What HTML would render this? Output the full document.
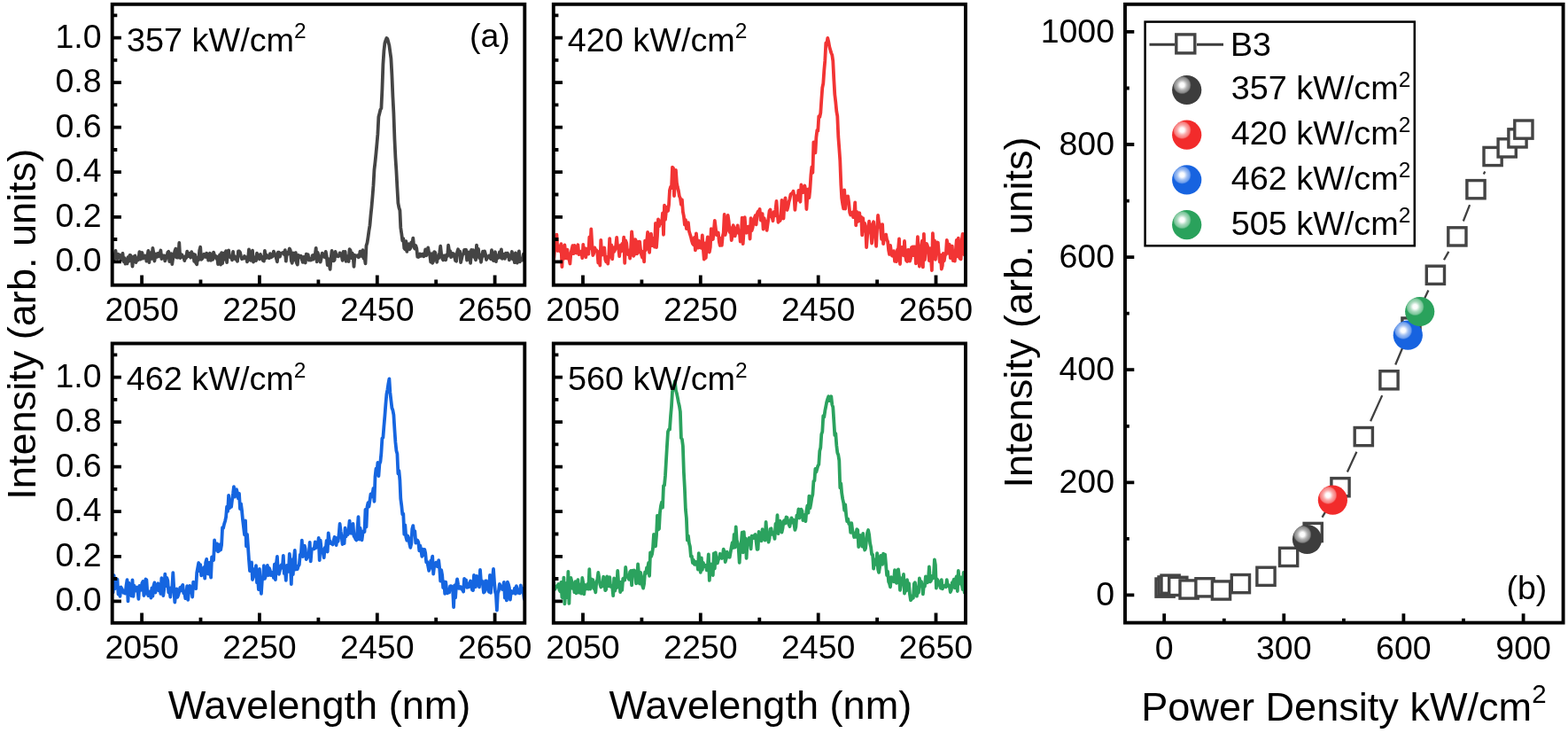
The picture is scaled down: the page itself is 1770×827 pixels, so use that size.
<!DOCTYPE html>
<html><head><meta charset="utf-8"><title>Figure</title><style>html,body{margin:0;padding:0;background:#fff;overflow:hidden}svg{display:block}</style></head><body>
<svg width="1770" height="827" viewBox="0 0 1770 827" font-family="'Liberation Sans', Arial, sans-serif">
<rect width="1770" height="827" fill="#fff"/>
<defs>
<clipPath id="c0"><rect x="126.7" y="4.8" width="465.6" height="316.9"/></clipPath>
<clipPath id="c1"><rect x="624.8" y="4.8" width="465.2" height="316.9"/></clipPath>
<clipPath id="c2"><rect x="126.7" y="387.5" width="465.6" height="315.3"/></clipPath>
<clipPath id="c3"><rect x="624.8" y="387.5" width="465.2" height="315.3"/></clipPath>
<radialGradient id="hl" cx="0.34" cy="0.335" r="0.31"><stop offset="0" stop-color="#fff" stop-opacity="1"/><stop offset="0.25" stop-color="#fff" stop-opacity="0.97"/><stop offset="0.55" stop-color="#fff" stop-opacity="0.6"/><stop offset="0.85" stop-color="#fff" stop-opacity="0.38"/><stop offset="1" stop-color="#fff" stop-opacity="0"/></radialGradient>
</defs>
<g clip-path="url(#c0)"><polyline points="123.6,289.0 124.6,287.7 125.6,290.3 126.6,293.1 127.6,291.1 128.6,293.5 129.5,288.7 130.5,282.9 131.5,291.3 132.5,291.8 133.5,286.8 134.5,287.4 135.5,288.5 136.5,293.2 137.5,289.1 138.5,285.9 139.5,295.1 140.5,291.1 141.5,297.7 142.5,294.9 143.5,297.4 144.5,290.1 145.5,294.8 146.5,287.8 147.5,288.3 148.5,289.9 149.5,300.5 150.5,291.5 151.5,289.2 152.5,288.5 153.5,296.0 154.5,291.2 155.5,293.5 156.4,292.7 157.4,284.2 158.4,292.7 159.4,289.2 160.4,285.0 161.4,291.7 162.4,289.5 163.4,288.5 164.4,288.7 165.4,294.6 166.4,288.7 167.4,282.8 168.4,296.1 169.4,285.1 170.4,288.5 171.4,291.9 172.4,279.9 173.4,285.5 174.4,294.5 175.4,288.7 176.4,286.4 177.4,289.9 178.4,285.9 179.4,289.3 180.4,286.0 181.4,282.5 182.4,292.1 183.3,288.1 184.3,291.1 185.3,288.4 186.3,294.4 187.3,291.6 188.3,289.9 189.3,284.9 190.3,283.8 191.3,295.0 192.3,292.6 193.3,286.1 194.3,298.1 195.3,291.1 196.3,289.5 197.3,283.3 198.3,280.6 199.3,290.5 200.3,290.7 201.3,290.2 202.3,274.0 203.3,291.0 204.3,290.4 205.3,287.4 206.3,289.6 207.3,289.9 208.3,294.1 209.3,289.1 210.2,291.0 211.2,283.7 212.2,286.0 213.2,289.1 214.2,286.0 215.2,290.6 216.2,284.2 217.2,289.0 218.2,286.4 219.2,294.9 220.2,287.4 221.2,296.7 222.2,298.3 223.2,290.4 224.2,293.1 225.2,282.6 226.2,278.8 227.2,292.8 228.2,291.9 229.2,288.1 230.2,286.8 231.2,289.8 232.2,290.0 233.2,285.8 234.2,286.6 235.2,293.7 236.2,289.4 237.1,285.8 238.1,293.8 239.1,287.8 240.1,292.9 241.1,284.6 242.1,288.1 243.1,288.6 244.1,291.7 245.1,289.6 246.1,298.1 247.1,294.2 248.1,287.4 249.1,298.7 250.1,285.2 251.1,297.0 252.1,285.6 253.1,292.9 254.1,285.5 255.1,283.3 256.1,296.0 257.1,283.3 258.1,282.5 259.1,289.3 260.1,290.3 261.1,289.7 262.1,293.4 263.1,284.0 264.0,291.5 265.0,289.2 266.0,292.6 267.0,291.9 268.0,294.8 269.0,283.3 270.0,283.4 271.0,284.6 272.0,289.0 273.0,292.2 274.0,290.5 275.0,291.6 276.0,289.0 277.0,290.7 278.0,290.4 279.0,295.3 280.0,292.7 281.0,281.5 282.0,292.1 283.0,293.8 284.0,287.5 285.0,282.6 286.0,295.6 287.0,290.0 288.0,291.9 289.0,294.0 290.0,285.7 290.9,289.1 291.9,288.7 292.9,292.4 293.9,286.9 294.9,291.5 295.9,289.7 296.9,294.1 297.9,294.5 298.9,282.9 299.9,291.3 300.9,287.7 301.9,289.2 302.9,291.0 303.9,291.3 304.9,286.1 305.9,290.4 306.9,289.7 307.9,288.9 308.9,283.7 309.9,285.9 310.9,287.3 311.9,291.6 312.9,295.3 313.9,284.7 314.9,284.6 315.9,289.7 316.9,286.5 317.8,285.5 318.8,285.2 319.8,284.8 320.8,287.0 321.8,282.1 322.8,294.7 323.8,285.1 324.8,286.8 325.8,285.0 326.8,280.5 327.8,282.3 328.8,294.2 329.8,296.7 330.8,285.3 331.8,293.6 332.8,289.1 333.8,285.2 334.8,296.5 335.8,298.6 336.8,287.8 337.8,288.8 338.8,290.1 339.8,288.8 340.8,292.9 341.8,295.9 342.8,289.8 343.8,293.4 344.7,296.5 345.7,286.7 346.7,289.3 347.7,287.2 348.7,293.5 349.7,292.0 350.7,293.6 351.7,293.0 352.7,288.1 353.7,292.6 354.7,287.4 355.7,287.5 356.7,279.8 357.7,295.3 358.7,285.0 359.7,289.4 360.7,289.1 361.7,295.6 362.7,291.1 363.7,285.6 364.7,289.4 365.7,288.6 366.7,290.3 367.7,283.8 368.7,289.1 369.7,299.0 370.7,292.2 371.6,298.0 372.6,303.8 373.6,291.4 374.6,282.9 375.6,288.8 376.6,294.3 377.6,293.3 378.6,283.9 379.6,288.3 380.6,288.8 381.6,289.3 382.6,288.8 383.6,285.4 384.6,286.5 385.6,288.0 386.6,293.8 387.6,283.9 388.6,292.1 389.6,284.0 390.6,294.8 391.6,289.6 392.6,289.0 393.6,295.0 394.6,281.2 395.6,282.4 396.6,291.1 397.6,285.5 398.5,287.3 399.5,300.9 400.5,287.9 401.5,289.3 402.5,288.6 403.5,288.2 404.5,290.2 405.5,289.8 406.5,283.6 407.5,287.5 408.5,289.0 409.5,282.1 410.5,291.5 411.5,290.8 412.5,297.3 413.5,277.1 414.5,274.0 415.5,267.6 416.5,260.2 417.5,254.2 418.5,243.0 419.5,233.5 420.5,221.8 421.5,209.2 422.5,191.2 423.5,182.8 424.5,172.8 425.4,162.8 426.4,151.4 427.4,131.7 428.4,127.9 429.4,123.8 430.4,122.1 431.4,101.2 432.4,72.6 433.4,57.3 434.4,48.6 435.4,45.4 436.4,43.0 437.4,43.9 438.4,47.5 439.4,51.4 440.4,58.7 441.4,66.1 442.4,84.4 443.4,108.6 444.4,128.0 445.4,156.2 446.4,177.5 447.4,192.7 448.4,211.5 449.4,229.2 450.4,234.3 451.4,237.4 452.3,256.9 453.3,263.8 454.3,271.5 455.3,269.2 456.3,280.0 457.3,281.2 458.3,272.1 459.3,283.9 460.3,276.7 461.3,275.3 462.3,281.3 463.3,280.1 464.3,273.3 465.3,275.0 466.3,268.6 467.3,278.6 468.3,280.6 469.3,277.0 470.3,280.2 471.3,289.7 472.3,290.1 473.3,289.3 474.3,286.5 475.3,288.9 476.3,287.0 477.3,286.6 478.3,289.3 479.2,288.1 480.2,281.5 481.2,288.3 482.2,285.7 483.2,279.5 484.2,285.3 485.2,287.7 486.2,295.6 487.2,286.2 488.2,296.8 489.2,294.4 490.2,284.1 491.2,284.8 492.2,288.7 493.2,295.8 494.2,289.7 495.2,291.1 496.2,285.1 497.2,277.7 498.2,287.0 499.2,291.6 500.2,293.4 501.2,288.3 502.2,288.8 503.2,293.3 504.2,287.5 505.2,288.9 506.1,276.7 507.1,283.2 508.1,283.1 509.1,290.2 510.1,285.7 511.1,288.7 512.1,286.2 513.1,289.6 514.1,294.0 515.1,294.7 516.1,284.5 517.1,281.3 518.1,287.1 519.1,283.6 520.1,296.0 521.1,291.7 522.1,287.3 523.1,286.3 524.1,281.9 525.1,283.4 526.1,281.8 527.1,293.7 528.1,292.4 529.1,284.5 530.1,286.0 531.1,296.8 532.1,282.0 533.0,285.4 534.0,282.1 535.0,289.9 536.0,289.5 537.0,293.3 538.0,276.6 539.0,289.0 540.0,281.0 541.0,291.1 542.0,287.5 543.0,295.8 544.0,289.9 545.0,283.7 546.0,288.6 547.0,283.3 548.0,286.7 549.0,293.0 550.0,290.5 551.0,290.3 552.0,288.5 553.0,290.7 554.0,292.0 555.0,282.2 556.0,292.9 557.0,294.1 558.0,288.5 559.0,284.3 559.9,295.2 560.9,288.3 561.9,291.2 562.9,288.4 563.9,284.4 564.9,290.6 565.9,281.5 566.9,291.8 567.9,286.5 568.9,289.3 569.9,291.7 570.9,285.6 571.9,289.0 572.9,285.6 573.9,288.5 574.9,293.3 575.9,288.8 576.9,288.1 577.9,284.0 578.9,292.5 579.9,288.5 580.9,296.2 581.9,285.4 582.9,293.3 583.9,296.6 584.9,288.6 585.9,283.3 586.8,295.3 587.8,293.3 588.8,291.8 589.8,293.5 590.8,286.7 591.8,292.1 592.8,284.6 593.8,285.8 594.8,291.8" fill="none" stroke="#444444" stroke-width="3.8" stroke-linejoin="round" stroke-linecap="round"/></g>
<path d="M160.1,321.7V310.5M226.5,321.7V315.6M292.9,321.7V310.5M359.4,321.7V315.6M425.8,321.7V310.5M492.2,321.7V315.6M558.6,321.7V310.5M126.7,295.3H136.9M126.7,270.0H132.3M126.7,244.8H136.9M126.7,219.5H132.3M126.7,194.2H136.9M126.7,169.0H132.3M126.7,143.7H136.9M126.7,118.4H132.3M126.7,93.1H136.9M126.7,67.9H132.3M126.7,42.6H136.9M126.7,17.3H132.3" stroke="#000" stroke-width="3.8" fill="none"/>
<rect x="126.7" y="4.8" width="465.6" height="316.9" fill="none" stroke="#000" stroke-width="3.9"/>
<text x="160.1" y="361.9" font-size="37.5" text-anchor="middle">2050</text>
<text x="292.9" y="361.9" font-size="37.5" text-anchor="middle">2250</text>
<text x="425.8" y="361.9" font-size="37.5" text-anchor="middle">2450</text>
<text x="558.6" y="361.9" font-size="37.5" text-anchor="middle">2650</text>
<text x="114.6" y="306.3" font-size="37.5" text-anchor="end">0.0</text>
<text x="114.6" y="255.8" font-size="37.5" text-anchor="end">0.2</text>
<text x="114.6" y="205.2" font-size="37.5" text-anchor="end">0.4</text>
<text x="114.6" y="154.7" font-size="37.5" text-anchor="end">0.6</text>
<text x="114.6" y="104.1" font-size="37.5" text-anchor="end">0.8</text>
<text x="114.6" y="53.6" font-size="37.5" text-anchor="end">1.0</text>
<text x="143.0" y="57.9" font-size="37.8">357 kW/cm<tspan font-size="24.5" dy="-14.5">2</tspan></text>
<g clip-path="url(#c1)"><polyline points="621.5,277.0 622.5,267.0 623.5,268.2 624.5,296.8 625.5,289.2 626.5,276.6 627.4,275.8 628.4,264.7 629.4,283.0 630.4,279.0 631.4,277.7 632.4,283.6 633.4,275.2 634.4,301.1 635.4,278.6 636.4,291.9 637.4,276.5 638.4,286.0 639.4,291.4 640.4,281.7 641.4,291.9 642.4,292.2 643.4,297.5 644.4,285.6 645.4,281.4 646.4,277.2 647.4,286.2 648.4,276.8 649.4,284.8 650.4,285.5 651.4,280.2 652.4,276.3 653.4,287.2 654.3,286.3 655.3,285.6 656.3,283.5 657.3,291.2 658.3,275.9 659.3,287.0 660.3,280.2 661.3,290.2 662.3,280.8 663.3,280.4 664.3,286.7 665.3,267.5 666.3,280.3 667.3,258.5 668.3,275.5 669.3,288.1 670.3,285.8 671.3,279.3 672.3,282.1 673.3,282.1 674.3,284.6 675.3,296.5 676.3,284.0 677.3,299.5 678.3,270.8 679.3,287.6 680.3,287.4 681.2,283.4 682.2,279.5 683.2,292.7 684.2,295.2 685.2,289.9 686.2,297.5 687.2,289.1 688.2,269.1 689.2,289.8 690.2,276.4 691.2,292.3 692.2,279.2 693.2,284.0 694.2,282.0 695.2,277.1 696.2,267.8 697.2,280.0 698.2,280.6 699.2,289.2 700.2,277.0 701.2,283.5 702.2,275.0 703.2,281.8 704.2,267.7 705.2,296.8 706.2,271.5 707.2,274.1 708.1,283.7 709.1,287.1 710.1,282.8 711.1,291.5 712.1,279.6 713.1,261.3 714.1,271.4 715.1,288.9 716.1,287.0 717.1,270.1 718.1,272.1 719.1,286.3 720.1,285.2 721.1,272.7 722.1,272.7 723.1,282.1 724.1,287.6 725.1,290.6 726.1,283.6 727.1,295.3 728.1,271.6 729.1,282.1 730.1,273.0 731.1,261.8 732.1,267.0 733.1,284.8 734.1,267.7 735.0,263.8 736.0,277.0 737.0,277.0 738.0,268.7 739.0,278.7 740.0,251.8 741.0,279.2 742.0,266.0 743.0,247.3 744.0,255.2 745.0,251.1 746.0,249.3 747.0,252.1 748.0,240.5 749.0,264.8 750.0,231.7 751.0,247.7 752.0,238.0 753.0,233.8 754.0,238.0 755.0,231.3 756.0,214.4 757.0,210.9 758.0,212.0 759.0,188.7 760.0,189.6 761.0,221.0 761.9,208.2 762.9,191.9 763.9,206.2 764.9,211.3 765.9,215.3 766.9,221.5 767.9,223.5 768.9,230.8 769.9,225.3 770.9,239.0 771.9,243.9 772.9,253.5 773.9,248.0 774.9,258.1 775.9,256.0 776.9,251.1 777.9,261.0 778.9,264.3 779.9,267.4 780.9,271.7 781.9,274.8 782.9,276.2 783.9,267.8 784.9,282.3 785.9,263.3 786.9,273.5 787.9,279.7 788.8,271.7 789.8,279.2 790.8,272.8 791.8,279.9 792.8,265.5 793.8,280.8 794.8,292.7 795.8,274.5 796.8,291.0 797.8,275.8 798.8,267.4 799.8,269.9 800.8,284.5 801.8,279.0 802.8,258.1 803.8,268.5 804.8,270.0 805.8,260.7 806.8,248.8 807.8,256.9 808.8,265.0 809.8,264.0 810.8,262.6 811.8,272.9 812.8,277.0 813.8,269.0 814.8,276.8 815.7,266.8 816.7,262.6 817.7,242.0 818.7,265.0 819.7,259.3 820.7,259.6 821.7,243.0 822.7,250.1 823.7,262.2 824.7,257.2 825.7,271.2 826.7,265.6 827.7,254.1 828.7,258.0 829.7,266.3 830.7,261.2 831.7,258.1 832.7,254.4 833.7,263.0 834.7,260.3 835.7,272.6 836.7,267.3 837.7,245.6 838.7,275.1 839.7,260.2 840.7,245.2 841.7,259.7 842.6,262.7 843.6,256.4 844.6,255.6 845.6,255.8 846.6,269.5 847.6,246.1 848.6,260.2 849.6,257.0 850.6,250.1 851.6,246.1 852.6,243.3 853.6,253.4 854.6,241.5 855.6,238.7 856.6,238.2 857.6,236.0 858.6,248.2 859.6,248.7 860.6,241.2 861.6,258.6 862.6,246.1 863.6,251.4 864.6,249.6 865.6,259.9 866.6,252.7 867.6,245.4 868.6,237.8 869.5,236.5 870.5,244.4 871.5,244.7 872.5,249.2 873.5,239.1 874.5,243.7 875.5,236.5 876.5,226.9 877.5,240.1 878.5,250.9 879.5,245.1 880.5,249.1 881.5,246.3 882.5,225.9 883.5,233.6 884.5,246.5 885.5,228.8 886.5,223.3 887.5,235.2 888.5,236.9 889.5,233.5 890.5,227.9 891.5,224.4 892.5,219.4 893.5,218.4 894.5,217.9 895.5,215.8 896.4,220.5 897.4,236.9 898.4,225.2 899.4,221.0 900.4,225.7 901.4,214.8 902.4,224.0 903.4,227.7 904.4,208.5 905.4,214.1 906.4,217.1 907.4,211.0 908.4,209.5 909.4,214.6 910.4,236.0 911.4,221.6 912.4,213.3 913.4,223.0 914.4,213.2 915.4,197.5 916.4,188.3 917.4,194.8 918.4,160.4 919.4,161.5 920.4,172.3 921.4,154.7 922.4,146.8 923.3,147.7 924.3,131.2 925.3,132.0 926.3,127.3 927.3,112.6 928.3,99.0 929.3,94.1 930.3,79.5 931.3,68.2 932.3,48.5 933.3,49.1 934.3,42.9 935.3,47.2 936.3,52.8 937.3,56.2 938.3,59.6 939.3,62.1 940.3,69.0 941.3,89.3 942.3,106.6 943.3,115.1 944.3,125.6 945.3,131.2 946.3,154.0 947.3,167.2 948.3,181.4 949.3,207.9 950.2,223.6 951.2,230.3 952.2,235.3 953.2,214.5 954.2,235.6 955.2,221.3 956.2,228.4 957.2,221.5 958.2,229.1 959.2,239.8 960.2,242.5 961.2,240.3 962.2,239.6 963.2,245.1 964.2,241.2 965.2,228.4 966.2,254.3 967.2,239.0 968.2,250.0 969.2,243.4 970.2,240.3 971.2,249.3 972.2,244.8 973.2,265.3 974.2,246.1 975.2,260.6 976.2,252.0 977.1,256.5 978.1,279.1 979.1,265.8 980.1,259.2 981.1,249.7 982.1,260.2 983.1,260.9 984.1,274.5 985.1,252.7 986.1,250.3 987.1,264.7 988.1,267.2 989.1,277.8 990.1,257.7 991.1,243.0 992.1,250.9 993.1,253.2 994.1,258.4 995.1,269.8 996.1,253.1 997.1,275.2 998.1,269.2 999.1,267.4 1000.1,264.6 1001.1,270.3 1002.1,272.5 1003.1,282.4 1004.0,287.0 1005.0,276.9 1006.0,283.5 1007.0,288.7 1008.0,288.8 1009.0,283.2 1010.0,294.8 1011.0,291.8 1012.0,295.1 1013.0,281.8 1014.0,281.0 1015.0,269.5 1016.0,298.0 1017.0,279.5 1018.0,279.0 1019.0,287.6 1020.0,288.2 1021.0,272.0 1022.0,287.8 1023.0,294.0 1024.0,295.0 1025.0,281.8 1026.0,281.8 1027.0,294.7 1028.0,291.4 1029.0,279.2 1030.0,278.6 1030.9,288.2 1031.9,278.3 1032.9,278.8 1033.9,297.4 1034.9,286.0 1035.9,267.1 1036.9,288.2 1037.9,300.6 1038.9,286.1 1039.9,278.1 1040.9,271.7 1041.9,301.4 1042.9,263.8 1043.9,293.2 1044.9,277.0 1045.9,274.9 1046.9,277.0 1047.9,283.6 1048.9,294.0 1049.9,280.1 1050.9,290.7 1051.9,305.0 1052.9,263.2 1053.9,279.9 1054.9,271.3 1055.9,292.8 1056.9,274.2 1057.8,273.4 1058.8,273.7 1059.8,286.2 1060.8,295.5 1061.8,287.6 1062.8,303.6 1063.8,299.7 1064.8,285.8 1065.8,294.3 1066.8,287.6 1067.8,287.0 1068.8,270.8 1069.8,275.5 1070.8,285.9 1071.8,275.8 1072.8,291.2 1073.8,287.5 1074.8,277.6 1075.8,294.2 1076.8,286.5 1077.8,294.5 1078.8,283.0 1079.8,270.9 1080.8,289.4 1081.8,268.7 1082.8,290.1 1083.8,291.9 1084.7,292.4 1085.7,271.1 1086.7,263.8 1087.7,278.3 1088.7,287.5 1089.7,276.2 1090.7,284.1 1091.7,275.0 1092.7,278.8" fill="none" stroke="#f23434" stroke-width="3.8" stroke-linejoin="round" stroke-linecap="round"/></g>
<path d="M658.0,321.7V310.5M724.4,321.7V315.6M790.8,321.7V310.5M857.3,321.7V315.6M923.7,321.7V310.5M990.1,321.7V315.6M1056.5,321.7V310.5M624.8,295.3H635.0M624.8,270.0H630.4M624.8,244.8H635.0M624.8,219.5H630.4M624.8,194.2H635.0M624.8,169.0H630.4M624.8,143.7H635.0M624.8,118.4H630.4M624.8,93.1H635.0M624.8,67.9H630.4M624.8,42.6H635.0M624.8,17.3H630.4" stroke="#000" stroke-width="3.8" fill="none"/>
<rect x="624.8" y="4.8" width="465.2" height="316.9" fill="none" stroke="#000" stroke-width="3.9"/>
<text x="658.0" y="361.9" font-size="37.5" text-anchor="middle">2050</text>
<text x="790.8" y="361.9" font-size="37.5" text-anchor="middle">2250</text>
<text x="923.7" y="361.9" font-size="37.5" text-anchor="middle">2450</text>
<text x="1056.5" y="361.9" font-size="37.5" text-anchor="middle">2650</text>
<text x="640.8" y="57.6" font-size="37.8">420 kW/cm<tspan font-size="24.5" dy="-14.5">2</tspan></text>
<g clip-path="url(#c2)"><polyline points="123.6,661.6 124.6,646.8 125.6,667.6 126.6,656.6 127.6,668.5 128.6,649.1 129.5,664.2 130.5,662.5 131.5,655.9 132.5,653.8 133.5,670.5 134.5,665.3 135.5,672.8 136.5,662.4 137.5,664.2 138.5,666.2 139.5,668.7 140.5,666.8 141.5,669.5 142.5,660.9 143.5,654.2 144.5,678.3 145.5,657.6 146.5,668.2 147.5,662.1 148.5,672.3 149.5,654.4 150.5,672.8 151.5,660.7 152.5,664.7 153.5,666.4 154.5,662.6 155.5,666.8 156.4,675.8 157.4,660.8 158.4,662.8 159.4,665.8 160.4,657.8 161.4,656.0 162.4,672.0 163.4,669.7 164.4,653.5 165.4,654.3 166.4,669.1 167.4,672.1 168.4,668.2 169.4,667.2 170.4,674.6 171.4,663.4 172.4,672.6 173.4,661.1 174.4,657.4 175.4,668.6 176.4,664.4 177.4,659.6 178.4,658.3 179.4,666.4 180.4,663.8 181.4,669.9 182.4,652.1 183.3,659.7 184.3,672.0 185.3,664.3 186.3,647.7 187.3,661.1 188.3,651.8 189.3,655.0 190.3,668.3 191.3,665.3 192.3,673.6 193.3,663.0 194.3,663.7 195.3,646.1 196.3,664.2 197.3,679.5 198.3,669.7 199.3,664.3 200.3,673.8 201.3,671.2 202.3,667.7 203.3,662.9 204.3,666.4 205.3,661.7 206.3,659.9 207.3,669.2 208.3,669.0 209.3,675.1 210.2,671.1 211.2,661.1 212.2,676.9 213.2,666.2 214.2,660.8 215.2,668.4 216.2,664.1 217.2,673.5 218.2,656.7 219.2,658.1 220.2,658.2 221.2,664.1 222.2,646.2 223.2,640.7 224.2,635.0 225.2,644.3 226.2,637.1 227.2,649.4 228.2,646.0 229.2,644.1 230.2,640.2 231.2,652.7 232.2,634.6 233.2,630.9 234.2,647.1 235.2,647.5 236.2,634.7 237.1,640.7 238.1,651.6 239.1,628.5 240.1,632.1 241.1,632.0 242.1,609.5 243.1,618.8 244.1,620.5 245.1,613.5 246.1,622.4 247.1,621.5 248.1,614.5 249.1,620.5 250.1,614.8 251.1,595.1 252.1,595.7 253.1,591.1 254.1,588.0 255.1,583.4 256.1,571.6 257.1,576.9 258.1,558.9 259.1,573.4 260.1,565.0 261.1,571.8 262.1,563.6 263.1,556.6 264.0,549.1 265.0,560.7 266.0,552.8 267.0,552.2 268.0,556.0 269.0,562.4 270.0,556.9 271.0,574.1 272.0,568.3 273.0,575.7 274.0,586.4 275.0,594.8 276.0,603.4 277.0,587.4 278.0,616.3 279.0,602.8 280.0,617.0 281.0,631.7 282.0,644.2 283.0,634.9 284.0,634.5 285.0,654.0 286.0,650.6 287.0,642.2 288.0,648.2 289.0,638.1 290.0,657.4 290.9,651.2 291.9,665.1 292.9,641.9 293.9,660.6 294.9,669.8 295.9,654.4 296.9,653.5 297.9,638.2 298.9,652.9 299.9,650.1 300.9,645.4 301.9,638.0 302.9,649.0 303.9,640.8 304.9,643.9 305.9,649.1 306.9,646.0 307.9,645.9 308.9,651.9 309.9,636.6 310.9,654.2 311.9,635.9 312.9,627.9 313.9,643.7 314.9,647.9 315.9,643.6 316.9,638.7 317.8,637.2 318.8,640.7 319.8,626.9 320.8,647.2 321.8,642.1 322.8,654.9 323.8,638.0 324.8,641.5 325.8,644.7 326.8,624.9 327.8,635.5 328.8,659.1 329.8,631.3 330.8,648.1 331.8,630.3 332.8,621.0 333.8,642.6 334.8,639.1 335.8,642.1 336.8,638.6 337.8,637.2 338.8,625.7 339.8,625.4 340.8,609.7 341.8,628.1 342.8,620.7 343.8,615.6 344.7,619.5 345.7,631.0 346.7,629.3 347.7,627.7 348.7,624.8 349.7,611.8 350.7,633.4 351.7,620.9 352.7,619.3 353.7,619.2 354.7,619.3 355.7,611.4 356.7,618.0 357.7,614.1 358.7,615.8 359.7,606.9 360.7,632.2 361.7,609.7 362.7,620.0 363.7,619.8 364.7,623.9 365.7,629.2 366.7,617.9 367.7,619.0 368.7,609.8 369.7,622.5 370.7,601.3 371.6,608.3 372.6,611.0 373.6,613.2 374.6,612.7 375.6,614.4 376.6,610.0 377.6,605.9 378.6,606.8 379.6,615.1 380.6,606.8 381.6,610.8 382.6,603.1 383.6,591.0 384.6,599.2 385.6,605.4 386.6,614.0 387.6,611.9 388.6,613.1 389.6,595.7 390.6,605.4 391.6,599.0 392.6,603.1 393.6,597.5 394.6,587.7 395.6,601.5 396.6,598.5 397.6,601.9 398.5,590.9 399.5,604.8 400.5,606.2 401.5,608.6 402.5,609.4 403.5,597.0 404.5,583.1 405.5,608.5 406.5,595.7 407.5,601.2 408.5,609.3 409.5,601.6 410.5,599.3 411.5,600.0 412.5,574.8 413.5,594.5 414.5,571.6 415.5,567.3 416.5,571.6 417.5,564.5 418.5,557.5 419.5,560.5 420.5,556.7 421.5,550.8 422.5,565.8 423.5,537.7 424.5,528.7 425.4,533.4 426.4,521.9 427.4,537.0 428.4,523.4 429.4,521.1 430.4,511.0 431.4,494.6 432.4,493.6 433.4,480.8 434.4,469.1 435.4,455.8 436.4,444.7 437.4,439.6 438.4,432.9 439.4,427.4 440.4,442.9 441.4,451.8 442.4,460.2 443.4,462.8 444.4,468.2 445.4,484.4 446.4,498.9 447.4,508.4 448.4,511.9 449.4,534.5 450.4,531.1 451.4,542.0 452.3,562.8 453.3,570.4 454.3,580.4 455.3,579.8 456.3,602.9 457.3,592.4 458.3,606.1 459.3,609.7 460.3,604.5 461.3,607.5 462.3,613.6 463.3,617.8 464.3,613.3 465.3,596.7 466.3,593.1 467.3,602.2 468.3,599.4 469.3,612.5 470.3,610.8 471.3,609.6 472.3,611.7 473.3,621.3 474.3,615.7 475.3,620.6 476.3,627.8 477.3,619.7 478.3,626.2 479.2,619.8 480.2,624.0 481.2,634.3 482.2,633.9 483.2,638.7 484.2,643.8 485.2,641.3 486.2,632.7 487.2,632.7 488.2,627.6 489.2,647.6 490.2,638.5 491.2,638.6 492.2,634.6 493.2,638.9 494.2,639.3 495.2,632.1 496.2,641.3 497.2,655.6 498.2,643.2 499.2,649.1 500.2,663.0 501.2,656.2 502.2,669.9 503.2,656.6 504.2,665.6 505.2,669.3 506.1,666.0 507.1,668.4 508.1,661.4 509.1,661.2 510.1,661.8 511.1,665.6 512.1,685.1 513.1,660.5 514.1,674.3 515.1,659.5 516.1,653.3 517.1,659.3 518.1,663.9 519.1,662.4 520.1,662.1 521.1,665.0 522.1,665.2 523.1,667.6 524.1,652.9 525.1,661.3 526.1,654.5 527.1,662.9 528.1,660.7 529.1,662.3 530.1,657.9 531.1,655.4 532.1,659.3 533.0,665.5 534.0,666.1 535.0,649.0 536.0,662.3 537.0,662.2 538.0,649.8 539.0,652.3 540.0,656.0 541.0,662.3 542.0,643.0 543.0,656.4 544.0,655.2 545.0,660.0 546.0,668.5 547.0,667.8 548.0,655.5 549.0,655.4 550.0,659.7 551.0,666.0 552.0,667.7 553.0,649.0 554.0,668.8 555.0,653.4 556.0,652.6 557.0,642.0 558.0,656.5 559.0,667.7 559.9,670.7 560.9,688.6 561.9,669.4 562.9,666.7 563.9,659.0 564.9,661.7 565.9,662.1 566.9,665.0 567.9,662.1 568.9,656.9 569.9,674.6 570.9,670.7 571.9,677.4 572.9,656.7 573.9,659.2 574.9,663.1 575.9,676.5 576.9,666.8 577.9,669.5 578.9,667.1 579.9,668.8 580.9,663.8 581.9,669.9 582.9,661.1 583.9,665.2 584.9,668.7 585.9,667.3 586.8,669.4 587.8,660.5 588.8,667.9 589.8,663.8 590.8,668.4 591.8,675.9 592.8,659.1 593.8,672.6 594.8,660.3" fill="none" stroke="#1565e0" stroke-width="3.8" stroke-linejoin="round" stroke-linecap="round"/></g>
<path d="M160.1,702.8V691.6M226.5,702.8V696.7M292.9,702.8V691.6M359.4,702.8V696.7M425.8,702.8V691.6M492.2,702.8V696.7M558.6,702.8V691.6M126.7,678.3H136.9M126.7,653.0H132.3M126.7,627.8H136.9M126.7,602.5H132.3M126.7,577.2H136.9M126.7,551.9H132.3M126.7,526.7H136.9M126.7,501.4H132.3M126.7,476.1H136.9M126.7,450.9H132.3M126.7,425.6H136.9M126.7,400.3H132.3" stroke="#000" stroke-width="3.8" fill="none"/>
<rect x="126.7" y="387.5" width="465.6" height="315.3" fill="none" stroke="#000" stroke-width="3.9"/>
<text x="160.1" y="743.0" font-size="37.5" text-anchor="middle">2050</text>
<text x="292.9" y="743.0" font-size="37.5" text-anchor="middle">2250</text>
<text x="425.8" y="743.0" font-size="37.5" text-anchor="middle">2450</text>
<text x="558.6" y="743.0" font-size="37.5" text-anchor="middle">2650</text>
<text x="114.6" y="689.3" font-size="37.5" text-anchor="end">0.0</text>
<text x="114.6" y="638.8" font-size="37.5" text-anchor="end">0.2</text>
<text x="114.6" y="588.2" font-size="37.5" text-anchor="end">0.4</text>
<text x="114.6" y="537.7" font-size="37.5" text-anchor="end">0.6</text>
<text x="114.6" y="487.1" font-size="37.5" text-anchor="end">0.8</text>
<text x="114.6" y="436.6" font-size="37.5" text-anchor="end">1.0</text>
<text x="142.8" y="440.0" font-size="37.8">462 kW/cm<tspan font-size="24.5" dy="-14.5">2</tspan></text>
<g clip-path="url(#c3)"><polyline points="621.5,658.7 622.5,655.1 623.5,665.5 624.5,650.6 625.5,660.4 626.5,664.8 627.4,662.3 628.4,662.2 629.4,660.5 630.4,659.1 631.4,665.5 632.4,667.2 633.4,657.0 634.4,674.0 635.4,666.6 636.4,651.6 637.4,681.3 638.4,667.4 639.4,657.9 640.4,674.2 641.4,644.8 642.4,680.9 643.4,652.9 644.4,651.9 645.4,656.2 646.4,663.9 647.4,659.6 648.4,668.2 649.4,656.1 650.4,669.3 651.4,658.3 652.4,654.2 653.4,668.7 654.3,663.3 655.3,659.4 656.3,669.7 657.3,652.0 658.3,657.6 659.3,670.3 660.3,659.9 661.3,664.7 662.3,664.0 663.3,659.0 664.3,664.6 665.3,642.2 666.3,664.7 667.3,653.1 668.3,660.3 669.3,654.2 670.3,664.0 671.3,663.9 672.3,668.4 673.3,656.5 674.3,654.1 675.3,646.0 676.3,651.9 677.3,659.2 678.3,662.5 679.3,658.4 680.3,661.2 681.2,650.6 682.2,654.0 683.2,666.2 684.2,665.0 685.2,650.5 686.2,657.6 687.2,661.2 688.2,651.1 689.2,661.9 690.2,660.9 691.2,662.0 692.2,672.2 693.2,652.4 694.2,666.6 695.2,661.9 696.2,663.0 697.2,644.0 698.2,657.7 699.2,656.8 700.2,668.1 701.2,656.7 702.2,665.9 703.2,653.1 704.2,652.3 705.2,654.6 706.2,639.9 707.2,650.0 708.1,649.1 709.1,651.9 710.1,653.8 711.1,645.4 712.1,644.0 713.1,660.3 714.1,643.6 715.1,646.9 716.1,643.5 717.1,646.7 718.1,658.3 719.1,657.6 720.1,636.5 721.1,647.2 722.1,658.5 723.1,646.0 724.1,650.7 725.1,660.7 726.1,663.6 727.1,658.6 728.1,645.3 729.1,647.3 730.1,640.3 731.1,641.2 732.1,635.0 733.1,649.8 734.1,623.3 735.0,628.0 736.0,625.4 737.0,618.6 738.0,602.8 739.0,612.7 740.0,616.4 741.0,604.3 742.0,581.6 743.0,597.6 744.0,596.7 745.0,577.9 746.0,570.7 747.0,566.6 748.0,572.6 749.0,547.9 750.0,547.5 751.0,536.7 752.0,519.4 753.0,502.4 754.0,487.0 755.0,484.7 756.0,484.5 757.0,470.2 758.0,458.3 759.0,441.6 760.0,438.8 761.0,433.9 761.9,430.0 762.9,440.2 763.9,443.7 764.9,448.6 765.9,453.9 766.9,458.2 767.9,464.6 768.9,494.1 769.9,495.5 770.9,503.3 771.9,532.8 772.9,551.0 773.9,574.8 774.9,584.9 775.9,609.6 776.9,604.5 777.9,612.8 778.9,616.4 779.9,627.9 780.9,627.6 781.9,635.1 782.9,631.8 783.9,636.8 784.9,636.9 785.9,634.0 786.9,634.6 787.9,642.5 788.8,624.1 789.8,636.6 790.8,645.9 791.8,629.3 792.8,642.8 793.8,634.8 794.8,639.1 795.8,637.6 796.8,638.2 797.8,643.4 798.8,639.1 799.8,625.3 800.8,654.9 801.8,638.9 802.8,636.4 803.8,646.7 804.8,648.9 805.8,624.4 806.8,641.5 807.8,623.5 808.8,633.3 809.8,635.4 810.8,631.7 811.8,629.6 812.8,624.8 813.8,629.0 814.8,630.0 815.7,628.8 816.7,619.6 817.7,622.3 818.7,634.0 819.7,630.4 820.7,622.7 821.7,628.4 822.7,625.6 823.7,628.7 824.7,622.9 825.7,617.1 826.7,612.1 827.7,618.0 828.7,603.0 829.7,617.6 830.7,594.5 831.7,609.3 832.7,612.5 833.7,619.0 834.7,634.8 835.7,615.9 836.7,613.2 837.7,600.7 838.7,623.3 839.7,600.1 840.7,614.7 841.7,607.5 842.6,629.8 843.6,611.1 844.6,614.3 845.6,607.0 846.6,611.0 847.6,619.4 848.6,604.7 849.6,606.3 850.6,606.9 851.6,603.9 852.6,603.1 853.6,610.7 854.6,619.9 855.6,619.6 856.6,599.9 857.6,603.7 858.6,607.3 859.6,610.3 860.6,597.1 861.6,605.8 862.6,607.7 863.6,609.5 864.6,589.0 865.6,601.7 866.6,607.1 867.6,611.6 868.6,607.3 869.5,596.9 870.5,596.3 871.5,602.8 872.5,600.5 873.5,602.7 874.5,607.9 875.5,590.9 876.5,597.0 877.5,581.2 878.5,602.1 879.5,596.3 880.5,587.7 881.5,594.1 882.5,600.5 883.5,596.0 884.5,588.1 885.5,587.0 886.5,590.5 887.5,583.4 888.5,583.9 889.5,589.1 890.5,591.7 891.5,593.9 892.5,587.6 893.5,584.4 894.5,589.7 895.5,586.3 896.4,591.0 897.4,597.9 898.4,594.4 899.4,581.5 900.4,583.0 901.4,574.4 902.4,584.5 903.4,578.3 904.4,574.7 905.4,576.4 906.4,587.1 907.4,583.6 908.4,581.0 909.4,588.2 910.4,576.1 911.4,570.3 912.4,578.7 913.4,559.7 914.4,573.4 915.4,568.2 916.4,561.4 917.4,557.7 918.4,543.1 919.4,542.3 920.4,528.8 921.4,532.6 922.4,528.9 923.3,525.5 924.3,523.9 925.3,508.7 926.3,504.9 927.3,489.8 928.3,487.1 929.3,469.1 930.3,470.5 931.3,463.4 932.3,458.4 933.3,453.2 934.3,449.9 935.3,447.2 936.3,452.2 937.3,451.1 938.3,447.3 939.3,456.5 940.3,459.4 941.3,475.0 942.3,491.2 943.3,488.9 944.3,502.5 945.3,510.8 946.3,513.3 947.3,519.6 948.3,550.3 949.3,545.6 950.2,556.3 951.2,562.9 952.2,567.3 953.2,575.8 954.2,569.5 955.2,581.3 956.2,588.2 957.2,585.5 958.2,591.0 959.2,590.2 960.2,600.8 961.2,590.1 962.2,598.0 963.2,601.5 964.2,606.0 965.2,601.7 966.2,605.9 967.2,597.1 968.2,598.1 969.2,617.1 970.2,605.7 971.2,604.1 972.2,608.1 973.2,616.6 974.2,601.8 975.2,616.1 976.2,620.5 977.1,618.6 978.1,609.5 979.1,601.0 980.1,598.0 981.1,603.0 982.1,612.8 983.1,617.1 984.1,625.6 985.1,625.6 986.1,641.7 987.1,633.6 988.1,631.3 989.1,636.8 990.1,624.1 991.1,642.3 992.1,645.9 993.1,640.0 994.1,626.9 995.1,627.1 996.1,636.8 997.1,624.6 998.1,634.5 999.1,625.6 1000.1,637.7 1001.1,649.2 1002.1,644.8 1003.1,656.4 1004.0,658.2 1005.0,662.4 1006.0,651.2 1007.0,654.1 1008.0,654.3 1009.0,656.3 1010.0,643.2 1011.0,655.9 1012.0,657.8 1013.0,643.8 1014.0,642.4 1015.0,650.2 1016.0,665.9 1017.0,659.3 1018.0,652.1 1019.0,657.5 1020.0,648.0 1021.0,669.6 1022.0,656.6 1023.0,666.6 1024.0,654.1 1025.0,664.8 1026.0,658.1 1027.0,670.8 1028.0,677.1 1029.0,676.0 1030.0,672.2 1030.9,674.6 1031.9,658.6 1032.9,657.2 1033.9,664.1 1034.9,672.7 1035.9,665.8 1036.9,668.7 1037.9,652.3 1038.9,658.7 1039.9,656.0 1040.9,660.7 1041.9,670.4 1042.9,660.3 1043.9,661.5 1044.9,650.5 1045.9,651.7 1046.9,657.3 1047.9,653.7 1048.9,639.5 1049.9,656.4 1050.9,655.4 1051.9,650.0 1052.9,652.6 1053.9,650.0 1054.9,631.3 1055.9,637.3 1056.9,663.7 1057.8,653.5 1058.8,655.1 1059.8,657.9 1060.8,660.6 1061.8,663.5 1062.8,654.2 1063.8,664.4 1064.8,662.0 1065.8,661.2 1066.8,660.4 1067.8,662.3 1068.8,654.2 1069.8,661.2 1070.8,659.9 1071.8,661.5 1072.8,668.0 1073.8,665.8 1074.8,657.4 1075.8,656.7 1076.8,653.8 1077.8,663.4 1078.8,653.4 1079.8,650.4 1080.8,667.0 1081.8,644.0 1082.8,656.5 1083.8,658.5 1084.7,651.4 1085.7,659.3 1086.7,665.0 1087.7,645.9 1088.7,668.6 1089.7,661.8 1090.7,643.7 1091.7,668.6 1092.7,661.9" fill="none" stroke="#2ba25e" stroke-width="3.8" stroke-linejoin="round" stroke-linecap="round"/></g>
<path d="M658.0,702.8V691.6M724.4,702.8V696.7M790.8,702.8V691.6M857.3,702.8V696.7M923.7,702.8V691.6M990.1,702.8V696.7M1056.5,702.8V691.6M624.8,678.3H635.0M624.8,653.0H630.4M624.8,627.8H635.0M624.8,602.5H630.4M624.8,577.2H635.0M624.8,551.9H630.4M624.8,526.7H635.0M624.8,501.4H630.4M624.8,476.1H635.0M624.8,450.9H630.4M624.8,425.6H635.0M624.8,400.3H630.4" stroke="#000" stroke-width="3.8" fill="none"/>
<rect x="624.8" y="387.5" width="465.2" height="315.3" fill="none" stroke="#000" stroke-width="3.9"/>
<text x="658.0" y="743.0" font-size="37.5" text-anchor="middle">2050</text>
<text x="790.8" y="743.0" font-size="37.5" text-anchor="middle">2250</text>
<text x="923.7" y="743.0" font-size="37.5" text-anchor="middle">2450</text>
<text x="1056.5" y="743.0" font-size="37.5" text-anchor="middle">2650</text>
<text x="641.0" y="440.0" font-size="37.8">560 kW/cm<tspan font-size="24.5" dy="-14.5">2</tspan></text>
<text x="530" y="52.5" font-size="37.5">(a)</text>
<text transform="translate(40.3,365.7) rotate(-90)" font-size="45.1" text-anchor="middle">Intensity (arb. units)</text>
<text x="360.5" y="811.4" font-size="45.1" text-anchor="middle">Wavelength (nm)</text>
<text x="858.4" y="811.4" font-size="45.1" text-anchor="middle">Wavelength (nm)</text>
<path d="M1492.5,583.6L1502.7,566.6M1520.9,532.5L1531.4,509.8M1547.1,475.3L1560.2,446.1M1575.2,411.5L1585.8,386.3M1601.0,351.8L1612.4,327.5M1630.0,293.3L1635.3,283.9M1651.8,249.5L1659.1,231.1M1674.8,196.6L1676.3,193.6" stroke="#404040" stroke-width="2.3" fill="none"/>
<rect x="1305.0" y="653.0" width="20.2" height="20.2" fill="#fff" stroke="#444" stroke-width="3.4"/>
<rect x="1308.0" y="650.9" width="20.2" height="20.2" fill="#fff" stroke="#444" stroke-width="3.4"/>
<rect x="1311.0" y="649.1" width="20.2" height="20.2" fill="#fff" stroke="#444" stroke-width="3.4"/>
<rect x="1319.7" y="651.3" width="20.2" height="20.2" fill="#fff" stroke="#444" stroke-width="3.4"/>
<rect x="1332.0" y="654.9" width="20.2" height="20.2" fill="#fff" stroke="#444" stroke-width="3.4"/>
<rect x="1349.9" y="652.7" width="20.2" height="20.2" fill="#fff" stroke="#444" stroke-width="3.4"/>
<rect x="1368.4" y="655.9" width="20.2" height="20.2" fill="#fff" stroke="#444" stroke-width="3.4"/>
<rect x="1390.3" y="648.5" width="20.2" height="20.2" fill="#fff" stroke="#444" stroke-width="3.4"/>
<rect x="1418.9" y="640.2" width="20.2" height="20.2" fill="#fff" stroke="#444" stroke-width="3.4"/>
<rect x="1444.5" y="618.3" width="20.2" height="20.2" fill="#fff" stroke="#444" stroke-width="3.4"/>
<rect x="1472.1" y="590.4" width="20.2" height="20.2" fill="#fff" stroke="#444" stroke-width="3.4"/>
<rect x="1502.9" y="539.6" width="20.2" height="20.2" fill="#fff" stroke="#444" stroke-width="3.4"/>
<rect x="1529.2" y="482.5" width="20.2" height="20.2" fill="#fff" stroke="#444" stroke-width="3.4"/>
<rect x="1557.9" y="418.7" width="20.2" height="20.2" fill="#fff" stroke="#444" stroke-width="3.4"/>
<rect x="1582.9" y="358.9" width="20.2" height="20.2" fill="#fff" stroke="#444" stroke-width="3.4"/>
<rect x="1610.3" y="300.2" width="20.2" height="20.2" fill="#fff" stroke="#444" stroke-width="3.4"/>
<rect x="1634.8" y="256.8" width="20.2" height="20.2" fill="#fff" stroke="#444" stroke-width="3.4"/>
<rect x="1655.9" y="203.6" width="20.2" height="20.2" fill="#fff" stroke="#444" stroke-width="3.4"/>
<rect x="1675.0" y="166.4" width="20.2" height="20.2" fill="#fff" stroke="#444" stroke-width="3.4"/>
<rect x="1691.1" y="156.8" width="20.2" height="20.2" fill="#fff" stroke="#444" stroke-width="3.4"/>
<rect x="1702.9" y="145.8" width="20.2" height="20.2" fill="#fff" stroke="#444" stroke-width="3.4"/>
<rect x="1709.8" y="136.0" width="20.2" height="20.2" fill="#fff" stroke="#444" stroke-width="3.4"/>
<circle cx="1475.5" cy="608.5" r="16.6" fill="#3d3d3d"/><circle cx="1475.5" cy="608.5" r="16.6" fill="url(#hl)"/>
<circle cx="1504.4" cy="564.2" r="16.6" fill="#f22b2b"/><circle cx="1504.4" cy="564.2" r="16.6" fill="url(#hl)"/>
<circle cx="1589.3" cy="378.2" r="16.6" fill="#1763e0"/><circle cx="1589.3" cy="378.2" r="16.6" fill="url(#hl)"/>
<circle cx="1602.7" cy="351.5" r="16.6" fill="#2aa25c"/><circle cx="1602.7" cy="351.5" r="16.6" fill="url(#hl)"/>
<path d="M1314.2,702.6V692.3M1381.8,702.6V697.8M1449.3,702.6V692.3M1516.9,702.6V697.8M1584.4,702.6V692.3M1652.0,702.6V697.8M1719.6,702.6V692.3M1270.0,671.4H1280.3M1270.0,607.9H1274.8M1270.0,544.3H1280.3M1270.0,480.8H1274.8M1270.0,417.2H1280.3M1270.0,353.6H1274.8M1270.0,290.1H1280.3M1270.0,226.6H1274.8M1270.0,163.0H1280.3M1270.0,99.5H1274.8M1270.0,35.9H1280.3" stroke="#000" stroke-width="3.8" fill="none"/>
<rect x="1270.0" y="4.8" width="494.6" height="697.8" fill="none" stroke="#000" stroke-width="3.9"/>
<text x="1314.2" y="744.1" font-size="37.5" text-anchor="middle">0</text>
<text x="1449.3" y="744.1" font-size="37.5" text-anchor="middle">300</text>
<text x="1584.4" y="744.1" font-size="37.5" text-anchor="middle">600</text>
<text x="1719.6" y="744.1" font-size="37.5" text-anchor="middle">900</text>
<text x="1258.1" y="683.4" font-size="37.5" text-anchor="end">0</text>
<text x="1258.1" y="556.3" font-size="37.5" text-anchor="end">200</text>
<text x="1258.1" y="429.2" font-size="37.5" text-anchor="end">400</text>
<text x="1258.1" y="302.1" font-size="37.5" text-anchor="end">600</text>
<text x="1258.1" y="175.0" font-size="37.5" text-anchor="end">800</text>
<text x="1258.1" y="47.9" font-size="37.5" text-anchor="end">1000</text>
<text x="1700.5" y="676.3" font-size="37.5">(b)</text>
<rect x="1292.6" y="24.6" width="304.2" height="252.7" fill="#fff" stroke="#000" stroke-width="2.5"/>
<path d="M1297.5,50.2H1326M1351,50.2H1381" stroke="#3c3c3c" stroke-width="2.9"/>
<rect x="1327.8" y="38.9" width="21" height="21" fill="none" stroke="#444" stroke-width="3.4"/>
<text x="1389" y="62.8" font-size="37.5">B3</text>
<circle cx="1339.7" cy="101.5" r="16.6" fill="#3d3d3d"/><circle cx="1339.7" cy="101.5" r="16.6" fill="url(#hl)"/>
<text x="1389.7" y="112.4" font-size="37.8">357 kW/cm<tspan font-size="24.5" dy="-14.5">2</tspan></text>
<circle cx="1339.7" cy="152.2" r="16.6" fill="#f22b2b"/><circle cx="1339.7" cy="152.2" r="16.6" fill="url(#hl)"/>
<text x="1389.7" y="163.4" font-size="37.8">420 kW/cm<tspan font-size="24.5" dy="-14.5">2</tspan></text>
<circle cx="1339.7" cy="202.9" r="16.6" fill="#1763e0"/><circle cx="1339.7" cy="202.9" r="16.6" fill="url(#hl)"/>
<text x="1389.7" y="214.3" font-size="37.8">462 kW/cm<tspan font-size="24.5" dy="-14.5">2</tspan></text>
<circle cx="1339.7" cy="253.6" r="16.6" fill="#2aa25c"/><circle cx="1339.7" cy="253.6" r="16.6" fill="url(#hl)"/>
<text x="1389.7" y="265.2" font-size="37.8">505 kW/cm<tspan font-size="24.5" dy="-14.5">2</tspan></text>
<text transform="translate(1165.3,352.5) rotate(-90)" font-size="45.1" text-anchor="middle">Intensity (arb. units)</text>
<text x="1288.2" y="812.6" font-size="45.1">Power Density kW/cm<tspan font-size="29.5" dy="-19.4">2</tspan></text>
</svg></body></html>
